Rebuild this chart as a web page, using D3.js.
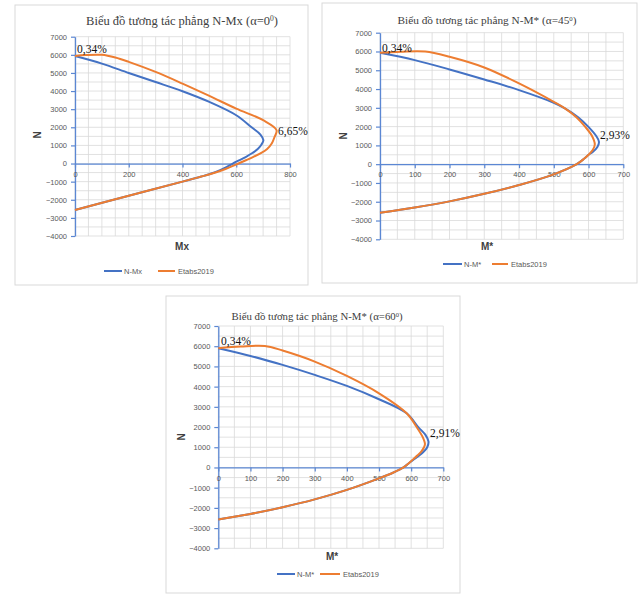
<!DOCTYPE html>
<html>
<head>
<meta charset="utf-8">
<script src="https://cdn.jsdelivr.net/npm/d3@7"></script>
<style>
  body { margin: 0; background: #fff; }
  svg { display: block; }
</style>
</head>
<body>
<div id="chart"></div>
<script>
// ---- data: [M, N] pairs ----
var nmx_blue = [[0,5930],[100,5515],[200,5000],[300,4500],[400,3990],[500,3400],[600,2665],[657,2000],[690,1600],[701,1290],[694,1050],[680,800],[660,580],[635,360],[610,170],[587,0],[565,-180],[540,-360],[510,-540],[470,-720],[400,-1000],[200,-1780],[0,-2560]];
var nmx_etabs = [[0,5930],[40,5985],[100,6000],[150,5850],[200,5610],[300,5055],[400,4410],[500,3730],[600,3030],[700,2390],[750,1840],[742,1450],[732,1100],[715,800],[690,560],[662,350],[636,180],[608,0],[590,-120],[560,-300],[520,-510],[470,-720],[400,-1000],[200,-1780],[0,-2560]];

var nm45_blue = [[0,5930],[100,5540],[200,5045],[300,4510],[400,3945],[500,3270],[532,2970],[570,2500],[599,2000],[622,1500],[630,1190],[625,900],[612,650],[600,500],[588,300],[566,0],[500,-540],[400,-1110],[300,-1580],[200,-1980],[100,-2310],[0,-2590]];
var nm45_etabs = [[0,5930],[60,5990],[130,6000],[200,5720],[300,5150],[400,4300],[500,3320],[532,2970],[565,2500],[590,2000],[610,1500],[618,1050],[612,750],[600,500],[588,300],[566,0],[500,-540],[400,-1110],[300,-1580],[200,-1980],[100,-2310],[0,-2590]];

var nm60_blue = [[0,5900],[100,5520],[200,5075],[300,4580],[400,4035],[500,3375],[586,2680],[622,2000],[645,1600],[654,1280],[650,1000],[640,800],[626,600],[610,420],[592,200],[576,0],[545,-250],[500,-540],[400,-1110],[300,-1580],[200,-1970],[100,-2300],[0,-2570]];
var nm60_etabs = [[0,5900],[70,5985],[145,6015],[200,5785],[300,5240],[400,4530],[500,3670],[586,2680],[617,2000],[636,1500],[643,1160],[640,1000],[632,800],[620,600],[606,400],[592,200],[576,0],[545,-250],[500,-540],[400,-1110],[300,-1580],[200,-1970],[100,-2300],[0,-2570]];

var yTicks = [-4000,-3000,-2000,-1000,0,1000,2000,3000,4000,5000,6000,7000];
var xTicks800 = [0,200,400,600,800];
var xTicks700 = [0,100,200,300,400,500,600,700];
var seriesNames = [["N-Mx","Etabs2019"],["N-M*","Etabs2019"],["N-M*","Etabs2019"]];
var titles = [["Biểu đồ tương tác phẳng N-Mx (α=0","0",")"],
              ["Biểu đồ tương tác phẳng N-M* (α=45","0",")"],
              ["Biểu đồ tương tác phẳng N-M* (α=60","0",")"]];
var xLabels = ["Mx","M*","M*"];
var notes = [["0,34%","6,65%"],["0,34%","2,93%"],["0,34%","2,91%"]];

var blue = "#4472c4", orange = "#ed7d31", grid = "#d9d9d9", axisCol = "#5b87d3", tickText = "#595959";
var serif = "'Liberation Serif', 'Times New Roman', serif";
var sans = "'Liberation Sans', Arial, sans-serif";

var svg = d3.select("#chart").append("svg").attr("width", 640).attr("height", 594);

var charts = [
  {panel:[15,5,293,280], xr:[75,290], yr:[236,36.7], xmax:800, xticks:xTicks800, title:[182,25,12.5],
   nLab:[37,135], xLab:[182,250], leg:[271,104,122,158,175], notes:[[77,53],[278,135]],
   blue:nmx_blue, etabs:nmx_etabs},
  {panel:[322,3,315,280], xr:[380,623.3], yr:[239.3,32.7], xmax:700, xticks:xTicks700, title:[487,24,11.3],
   nLab:[343,136], xLab:[487,250], leg:[264,443,462,492,508], notes:[[382,52],[600,139]],
   blue:nm45_blue, etabs:nm45_etabs},
  {panel:[166,296,294,297], xr:[218.3,443.3], yr:[548.3,326], xmax:700, xticks:xTicks700, title:[317,320,10.8],
   nLab:[181,437], xLab:[332,560], leg:[574,277,295,320,340], notes:[[221,345],[430,437]],
   blue:nm60_blue, etabs:nm60_etabs}
];

charts.forEach(function(c, i) {
  var g = svg.append("g");
  g.append("rect")
    .attr("x", c.panel[0]).attr("y", c.panel[1])
    .attr("width", c.panel[2]).attr("height", c.panel[3])
    .attr("fill", "#fff").attr("stroke", grid).attr("stroke-width", 1);

  var x = d3.scaleLinear().domain([0, c.xmax]).range(c.xr);
  var y = d3.scaleLinear().domain([-4000, 7000]).range(c.yr);

  // gridlines
  g.append("g").selectAll("line").data(d3.range(-4000, 7001, 500)).enter().append("line")
    .attr("x1", x(0)).attr("x2", x(c.xmax))
    .attr("y1", function(d){ return y(d); }).attr("y2", function(d){ return y(d); })
    .attr("stroke", grid).attr("stroke-width", 0.8);
  g.append("g").selectAll("line").data(d3.range(0, c.xmax + 1, 50)).enter().append("line")
    .attr("y1", y(-4000)).attr("y2", y(7000))
    .attr("x1", function(d){ return x(d); }).attr("x2", function(d){ return x(d); })
    .attr("stroke", grid).attr("stroke-width", 0.8);

  // axes
  var ya = g.append("g").attr("transform", "translate(" + x(0) + ",0)")
    .call(d3.axisLeft(y).tickValues(yTicks).tickFormat(d3.format("d")).tickSize(4).tickSizeOuter(0).tickPadding(4));
  var xa = g.append("g").attr("transform", "translate(0," + y(0) + ")")
    .call(d3.axisBottom(x).tickValues(c.xticks).tickFormat(d3.format("d")).tickSize(4).tickSizeOuter(0).tickPadding(4));
  [ya, xa].forEach(function(a) {
    a.select(".domain").attr("stroke", axisCol).attr("stroke-width", 1.3);
    a.selectAll(".tick line").attr("stroke", axisCol).attr("stroke-width", 1.2);
    a.selectAll(".tick text").attr("fill", tickText).style("font-family", sans).style("font-size", "7.5px");
  });

  // series
  var line = d3.line().x(function(d){ return x(d[0]); }).y(function(d){ return y(d[1]); })
    .curve(d3.curveCatmullRom.alpha(0.5));
  g.append("path").attr("d", line(c.blue)).attr("fill", "none")
    .attr("stroke", blue).attr("stroke-width", 2);
  g.append("path").attr("d", line(c.etabs)).attr("fill", "none")
    .attr("stroke", orange).attr("stroke-width", 2);

  // title
  var t = g.append("text").attr("x", c.title[0]).attr("y", c.title[1])
    .attr("text-anchor", "middle").style("font-family", serif)
    .style("font-size", c.title[2] + "px").attr("fill", "#404040");
  t.append("tspan").text(titles[i][0]);
  t.append("tspan").attr("baseline-shift", "super").style("font-size", "0.6em").text(titles[i][1]);
  t.append("tspan").text(titles[i][2]);

  // axis titles
  g.append("text").attr("transform", "translate(" + c.nLab[0] + "," + c.nLab[1] + ") rotate(-90)")
    .attr("text-anchor", "middle").attr("dy", "0.35em")
    .style("font-family", sans).style("font-weight", "bold").style("font-size", "10px")
    .attr("fill", "#404040").text("N");
  g.append("text").attr("x", c.xLab[0]).attr("y", c.xLab[1])
    .attr("text-anchor", "middle")
    .style("font-family", sans).style("font-weight", "bold").style("font-size", "10px")
    .attr("fill", "#404040").text(xLabels[i]);

  // legend
  var L = c.leg;
  g.append("line").attr("x1", L[1]).attr("x2", L[2]).attr("y1", L[0]).attr("y2", L[0])
    .attr("stroke", blue).attr("stroke-width", 2);
  g.append("text").attr("x", L[2] + 2).attr("y", L[0]).attr("dy", "0.35em")
    .style("font-family", sans).style("font-size", "7.5px").attr("fill", tickText).text(seriesNames[i][0]);
  g.append("line").attr("x1", L[3]).attr("x2", L[4]).attr("y1", L[0]).attr("y2", L[0])
    .attr("stroke", orange).attr("stroke-width", 2);
  g.append("text").attr("x", L[4] + 3).attr("y", L[0]).attr("dy", "0.35em")
    .style("font-family", sans).style("font-size", "7.5px").attr("fill", tickText).text(seriesNames[i][1]);

  // percentage notes
  c.notes.forEach(function(p, k) {
    g.append("text").attr("x", p[0]).attr("y", p[1])
      .style("font-family", serif).style("font-size", "11.5px").attr("fill", "#111")
      .text(notes[i][k]);
  });
});
</script>
</body>
</html>
